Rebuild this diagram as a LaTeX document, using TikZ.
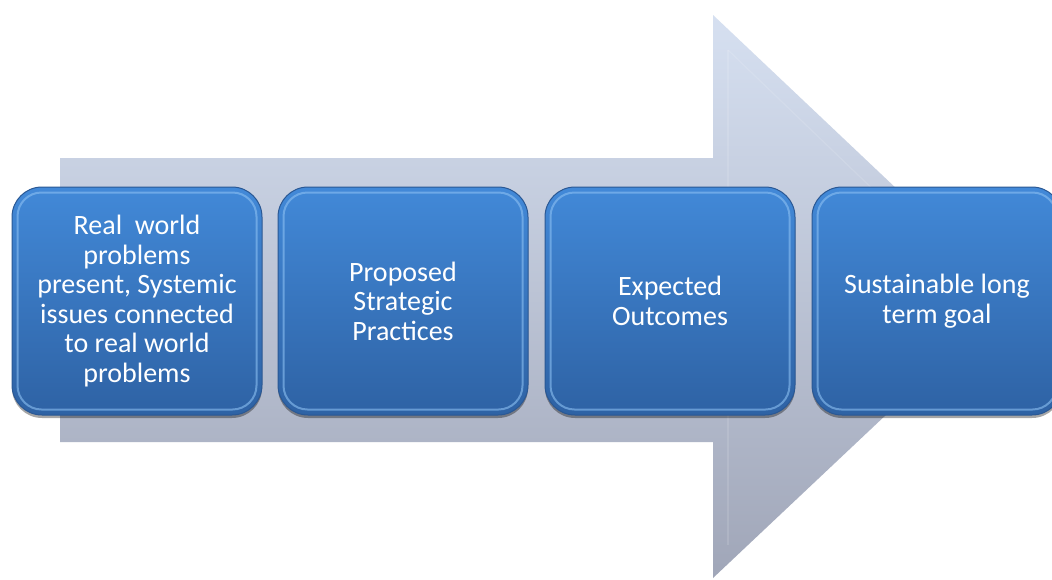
\documentclass[tikz,border=0pt]{standalone}
\usepackage{fontspec}
\setmainfont{Carlito}
\usetikzlibrary{shadows}
\definecolor{boxtop}{HTML}{4289D8}
\definecolor{boxbot}{HTML}{2E62A4}
\definecolor{boxedge}{HTML}{2A5894}
\definecolor{bevel}{HTML}{8CC0F2}
\definecolor{arrtop}{HTML}{D6E0F1}
\definecolor{arrbot}{HTML}{A0A6B8}
\begin{document}
\begin{tikzpicture}[x=1pt,y=-1pt,
  stepbox/.style={rounded corners=30pt, minimum width=250pt, minimum height=228pt,
    top color=boxtop, bottom color=boxbot, draw=boxedge, line width=1pt,
    text=white, align=center, font=\fontsize{28}{29.6}\selectfont, inner sep=0pt,
    drop shadow={shadow xshift=0pt, shadow yshift=-3pt, opacity=0.35, fill=black}},
  bevelline/.style={draw=bevel, line width=2pt, opacity=0.6, rounded corners=24pt},
  arrowbody/.style={top color=arrtop, bottom color=arrbot}]
\useasboundingbox (0,0) rectangle (1052,579);
\fill[white] (0,0) rectangle (1052,579);
\begin{scope}
\clip (0,0) rectangle (1052,579);
% big arrow
\path[arrowbody] (60,158) -- (713,158) -- (713,15) -- (1011,297) -- (713,578) -- (713,442) -- (60,442) -- cycle;
\draw[white, opacity=0.12, line width=1.2pt] (728,50) -- (728,545);
\draw[white, opacity=0.12, line width=1.2pt] (728,50) -- (985,297);
% boxes
\node[stepbox] (b1) at (137,301) {Real\ \ world\\problems\\present, Systemic\\issues connected\\to real world\\problems};
\node[stepbox] (b2) at (403,301) {Proposed\\Strategic\\Practices};
\node[stepbox] (b3) at (670,301) {Expected\\Outcomes};
\node[stepbox] (b4) at (937,301) {Sustainable long\\term goal};
\foreach \b in {b1,b2,b3,b4}{
  \draw[bevelline] ([shift={(6,6)}]\b.north west) rectangle ([shift={(-6,-6)}]\b.south east);
}
\end{scope}
\end{tikzpicture}
\end{document}
